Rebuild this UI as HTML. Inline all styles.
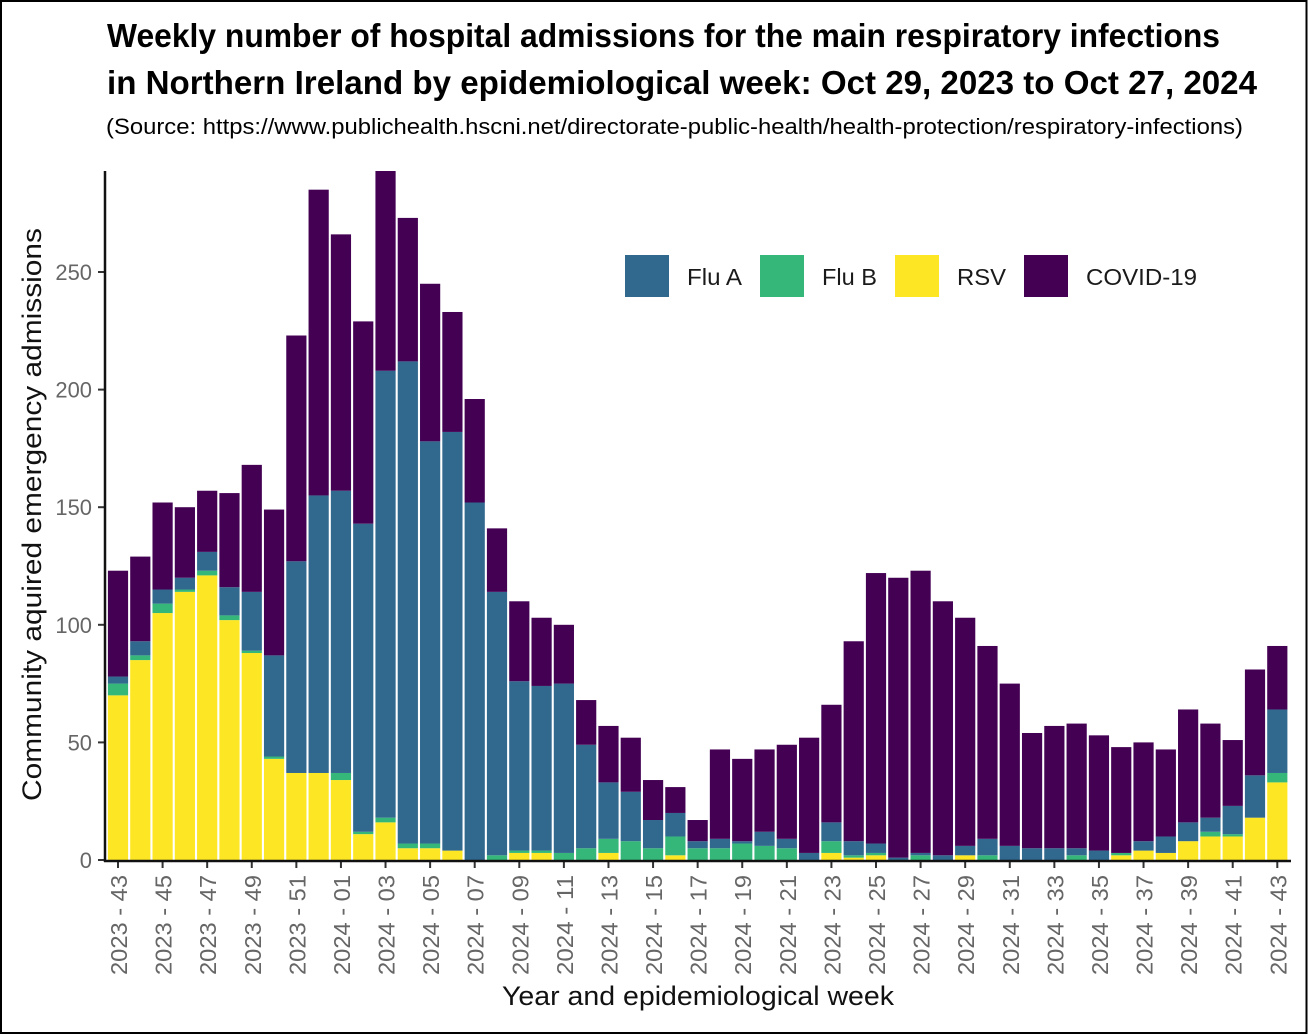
<!DOCTYPE html>
<html lang="en">
<head>
<meta charset="utf-8">
<title>Weekly hospital admissions for respiratory infections in Northern Ireland</title>
<style>
  html,body{margin:0;padding:0;background:#fff;width:1308px;height:1035px;overflow:hidden}
  svg{display:block;filter:blur(0.35px)}
  text{font-family:"Liberation Sans",sans-serif}
</style>
</head>
<body>
<svg id="chart" xmlns="http://www.w3.org/2000/svg" width="1308" height="1035" viewBox="0 0 1308 1035">
  <defs><clipPath id="plot-clip"><rect x="105" y="171" width="1186" height="690"/></clipPath></defs>
  <rect x="1" y="1" width="1305.5" height="1032" fill="#fff" stroke="#000" stroke-width="2"/>
  <text x="107" y="47" font-size="33" font-weight="700" fill="#000" textLength="1113" lengthAdjust="spacingAndGlyphs">Weekly number of hospital admissions for the main respiratory infections</text>
  <text x="107" y="94" font-size="33" font-weight="700" fill="#000" textLength="1150" lengthAdjust="spacingAndGlyphs">in Northern Ireland by epidemiological week: Oct 29, 2023 to Oct 27, 2024</text>
  <text x="106" y="134" font-size="22" fill="#000" textLength="1137" lengthAdjust="spacingAndGlyphs">(Source: https://www.publichealth.hscni.net/directorate-public-health/health-protection/respiratory-infections)</text>
  <g id="bars" clip-path="url(#plot-clip)"></g>
  <g id="y-axis"></g>
  <g id="x-axis"></g>
  <line x1="105" y1="171" x2="105" y2="862" stroke="#111" stroke-width="2.5"/>
  <line x1="104" y1="861" x2="1291" y2="861" stroke="#111" stroke-width="2.5"/>
  <text transform="translate(41,801) rotate(-90)" font-size="27" fill="#111" textLength="573" lengthAdjust="spacingAndGlyphs">Community aquired emergency admissions</text>
  <text x="502" y="1005" font-size="27" fill="#111" textLength="392" lengthAdjust="spacingAndGlyphs">Year and epidemiological week</text>
  <g>
    <g>
      <rect x="625" y="255" width="44" height="42" fill="#31688e"/>
      <text x="687" y="285" font-size="23" fill="#1a1a1a" textLength="55" lengthAdjust="spacingAndGlyphs">Flu A</text>
    </g>
    <g>
      <rect x="760" y="255" width="44" height="42" fill="#35b779"/>
      <text x="822" y="285" font-size="23" fill="#1a1a1a" textLength="55" lengthAdjust="spacingAndGlyphs">Flu B</text>
    </g>
    <g>
      <rect x="895" y="255" width="44" height="42" fill="#fde725"/>
      <text x="957" y="285" font-size="23" fill="#1a1a1a" textLength="49" lengthAdjust="spacingAndGlyphs">RSV</text>
    </g>
    <g>
      <rect x="1024" y="255" width="44" height="42" fill="#440154"/>
      <text x="1086" y="285" font-size="23" fill="#1a1a1a" textLength="111" lengthAdjust="spacingAndGlyphs">COVID-19</text>
    </g>
  </g>
</svg>
<script>
const weeks = ["2023 - 43","2023 - 44","2023 - 45","2023 - 46","2023 - 47","2023 - 48","2023 - 49","2023 - 50","2023 - 51","2023 - 52","2024 - 01","2024 - 02","2024 - 03","2024 - 04","2024 - 05","2024 - 06","2024 - 07","2024 - 08","2024 - 09","2024 - 10","2024 - 11","2024 - 12","2024 - 13","2024 - 14","2024 - 15","2024 - 16","2024 - 17","2024 - 18","2024 - 19","2024 - 20","2024 - 21","2024 - 22","2024 - 23","2024 - 24","2024 - 25","2024 - 26","2024 - 27","2024 - 28","2024 - 29","2024 - 30","2024 - 31","2024 - 32","2024 - 33","2024 - 34","2024 - 35","2024 - 36","2024 - 37","2024 - 38","2024 - 39","2024 - 40","2024 - 41","2024 - 42","2024 - 43"];
const rsv = [70,85,105,114,121,102,88,43,37,37,34,11,16,5,5,4,0,0,3,3,0,0,3,0,0,2,0,0,0,0,0,0,3,1,2,0,0,0,2,0,0,0,0,0,0,2,4,3,8,10,10,18,33];
const fluB = [5,2,4,1,2,2,1,1,0,0,3,1,2,2,2,0,0,2,1,1,3,5,6,8,5,8,5,5,7,6,5,0,5,1,1,0,2,0,0,2,0,0,0,2,0,1,0,0,0,2,1,0,4];
const fluA = [3,6,6,5,8,12,25,43,90,118,120,131,190,205,171,178,152,112,72,70,72,44,24,21,12,10,3,4,1,6,4,3,8,6,4,1,1,2,4,7,6,5,5,3,4,0,4,7,8,6,12,18,27];
const covid = [45,36,37,30,26,40,54,62,96,130,109,86,85,61,67,51,44,27,34,29,25,19,24,23,17,11,9,38,35,35,40,49,50,85,115,119,120,108,97,82,69,49,52,53,49,45,42,37,48,40,28,45,27];
const yTicks = [0,50,100,150,200,250];
const seriesNames = ["rsv","flu-b","flu-a","covid-19"];
const seriesColors = ["#fde725","#35b779","#31688e","#440154"];
const allSeries = [rsv,fluB,fluA,covid];

const NS = "http://www.w3.org/2000/svg";
const xScale = i => 118 + i * (1277.3 - 118) / (weeks.length - 1);
const yScale = v => 860 - v * 2.352;
const barWidth = 20.2;

const barsGroup = document.getElementById("bars");
weeks.forEach((week, i) => {
  let base = 0;
  allSeries.forEach((series, s) => {
    const top = base + series[i];
    const rect = document.createElementNS(NS, "rect");
    
    
    rect.setAttribute("x", xScale(i) - barWidth / 2);
    rect.setAttribute("y", yScale(top));
    rect.setAttribute("width", barWidth);
    rect.setAttribute("height", yScale(base) - yScale(top));
    rect.setAttribute("fill", seriesColors[s]);
    barsGroup.appendChild(rect);
    base = top;
  });
});

const yAxis = document.getElementById("y-axis");
yTicks.forEach(v => {
  const tick = document.createElementNS(NS, "line");
  
  
  tick.setAttribute("x1", 98);
  tick.setAttribute("x2", 105);
  tick.setAttribute("y1", yScale(v));
  tick.setAttribute("y2", yScale(v));
  tick.setAttribute("stroke", "#333");
  tick.setAttribute("stroke-width", 2);
  yAxis.appendChild(tick);
  const label = document.createElementNS(NS, "text");
  
  
  label.setAttribute("x", 92);
  label.setAttribute("y", yScale(v) + 8);
  label.setAttribute("text-anchor", "end");
  label.setAttribute("font-size", 22);
  label.setAttribute("fill", "#666");
  label.setAttribute("textLength", 12.2 * String(v).length);
  label.setAttribute("lengthAdjust", "spacingAndGlyphs");
  label.textContent = v;
  yAxis.appendChild(label);
});

const xAxis = document.getElementById("x-axis");
weeks.forEach((week, i) => {
  if (i % 2 !== 0) return;
  const x = xScale(i);
  const tick = document.createElementNS(NS, "line");
  
  
  tick.setAttribute("x1", x);
  tick.setAttribute("x2", x);
  tick.setAttribute("y1", 861);
  tick.setAttribute("y2", 868);
  tick.setAttribute("stroke", "#333");
  tick.setAttribute("stroke-width", 2);
  xAxis.appendChild(tick);
  const label = document.createElementNS(NS, "text");
  
  
  label.setAttribute("transform", "translate(" + (x + 9) + ",975) rotate(-90)");
  label.setAttribute("font-size", 23.5);
  label.setAttribute("fill", "#666");
  label.setAttribute("textLength", 100);
  label.setAttribute("lengthAdjust", "spacingAndGlyphs");
  label.textContent = week;
  xAxis.appendChild(label);
});
</script>
</body>
</html>
